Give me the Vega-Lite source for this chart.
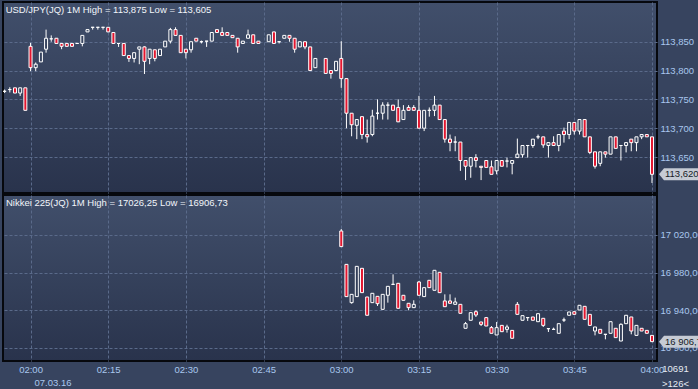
{
  "$schema": "https://vega.github.io/schema/vega-lite/v6.json",
  "background": "#37445f",
  "padding": {"left": 1, "top": 1, "right": 0, "bottom": 0},
  "spacing": 0,
  "config": {
    "font": "Liberation Sans",
    "axis": {"labelOverlap": false, "labelSeparation": -100},
    "view": {
      "stroke": "#06080d", "strokeWidth": 2,
      "fill": {"gradient": "linear", "x1": 0, "y1": 0, "x2": 0, "y2": 1, "stops": [{"offset": 0, "color": "#414f6b"}, {"offset": 1, "color": "#29334c"}]}
    }
  },
  "datasets": {
    "usd": [
      {"t":"2016-03-07T01:55","o":113.764,"h":113.767,"l":113.761,"c":113.764},
      {"t":"2016-03-07T01:56","o":113.767,"h":113.771,"l":113.762,"c":113.767},
      {"t":"2016-03-07T01:57","o":113.770,"h":113.770,"l":113.761,"c":113.761},
      {"t":"2016-03-07T01:58","o":113.761,"h":113.770,"l":113.756,"c":113.770},
      {"t":"2016-03-07T01:59","o":113.770,"h":113.770,"l":113.731,"c":113.731},
      {"t":"2016-03-07T02:00","o":113.842,"h":113.848,"l":113.799,"c":113.805},
      {"t":"2016-03-07T02:01","o":113.805,"h":113.814,"l":113.799,"c":113.811},
      {"t":"2016-03-07T02:02","o":113.815,"h":113.832,"l":113.815,"c":113.832},
      {"t":"2016-03-07T02:03","o":113.837,"h":113.871,"l":113.831,"c":113.856},
      {"t":"2016-03-07T02:04","o":113.855,"h":113.861,"l":113.850,"c":113.855},
      {"t":"2016-03-07T02:05","o":113.856,"h":113.856,"l":113.847,"c":113.847},
      {"t":"2016-03-07T02:06","o":113.847,"h":113.847,"l":113.837,"c":113.842},
      {"t":"2016-03-07T02:07","o":113.847,"h":113.847,"l":113.842,"c":113.842},
      {"t":"2016-03-07T02:08","o":113.847,"h":113.847,"l":113.842,"c":113.842},
      {"t":"2016-03-07T02:09","o":113.847,"h":113.847,"l":113.847,"c":113.847},
      {"t":"2016-03-07T02:10","o":113.847,"h":113.861,"l":113.842,"c":113.861},
      {"t":"2016-03-07T02:11","o":113.867,"h":113.871,"l":113.867,"c":113.871},
      {"t":"2016-03-07T02:12","o":113.875,"h":113.875,"l":113.871,"c":113.875},
      {"t":"2016-03-07T02:13","o":113.875,"h":113.875,"l":113.871,"c":113.875},
      {"t":"2016-03-07T02:14","o":113.875,"h":113.875,"l":113.871,"c":113.875},
      {"t":"2016-03-07T02:15","o":113.875,"h":113.875,"l":113.867,"c":113.867},
      {"t":"2016-03-07T02:16","o":113.866,"h":113.866,"l":113.847,"c":113.847},
      {"t":"2016-03-07T02:17","o":113.847,"h":113.847,"l":113.841,"c":113.847},
      {"t":"2016-03-07T02:18","o":113.847,"h":113.847,"l":113.826,"c":113.826},
      {"t":"2016-03-07T02:19","o":113.826,"h":113.826,"l":113.815,"c":113.821},
      {"t":"2016-03-07T02:20","o":113.821,"h":113.831,"l":113.814,"c":113.831},
      {"t":"2016-03-07T02:21","o":113.837,"h":113.841,"l":113.811,"c":113.841},
      {"t":"2016-03-07T02:22","o":113.841,"h":113.842,"l":113.794,"c":113.816},
      {"t":"2016-03-07T02:23","o":113.821,"h":113.837,"l":113.811,"c":113.837},
      {"t":"2016-03-07T02:24","o":113.836,"h":113.836,"l":113.816,"c":113.821},
      {"t":"2016-03-07T02:25","o":113.826,"h":113.837,"l":113.826,"c":113.837},
      {"t":"2016-03-07T02:26","o":113.841,"h":113.851,"l":113.841,"c":113.851},
      {"t":"2016-03-07T02:27","o":113.851,"h":113.874,"l":113.847,"c":113.871},
      {"t":"2016-03-07T02:28","o":113.871,"h":113.875,"l":113.861,"c":113.861},
      {"t":"2016-03-07T02:29","o":113.861,"h":113.861,"l":113.831,"c":113.831},
      {"t":"2016-03-07T02:30","o":113.837,"h":113.837,"l":113.821,"c":113.831},
      {"t":"2016-03-07T02:31","o":113.836,"h":113.850,"l":113.831,"c":113.850},
      {"t":"2016-03-07T02:32","o":113.856,"h":113.856,"l":113.851,"c":113.851},
      {"t":"2016-03-07T02:33","o":113.850,"h":113.852,"l":113.847,"c":113.850},
      {"t":"2016-03-07T02:34","o":113.851,"h":113.851,"l":113.841,"c":113.851},
      {"t":"2016-03-07T02:35","o":113.851,"h":113.866,"l":113.851,"c":113.866},
      {"t":"2016-03-07T02:36","o":113.871,"h":113.871,"l":113.866,"c":113.866},
      {"t":"2016-03-07T02:37","o":113.866,"h":113.875,"l":113.861,"c":113.861},
      {"t":"2016-03-07T02:38","o":113.866,"h":113.866,"l":113.861,"c":113.861},
      {"t":"2016-03-07T02:39","o":113.861,"h":113.861,"l":113.857,"c":113.857},
      {"t":"2016-03-07T02:40","o":113.856,"h":113.856,"l":113.831,"c":113.841},
      {"t":"2016-03-07T02:41","o":113.847,"h":113.851,"l":113.847,"c":113.851},
      {"t":"2016-03-07T02:42","o":113.856,"h":113.871,"l":113.856,"c":113.862},
      {"t":"2016-03-07T02:43","o":113.862,"h":113.862,"l":113.847,"c":113.847},
      {"t":"2016-03-07T02:44","o":113.851,"h":113.851,"l":113.847,"c":113.847},
      {"t":"2016-03-07T02:46","o":113.850,"h":113.862,"l":113.850,"c":113.862},
      {"t":"2016-03-07T02:47","o":113.867,"h":113.867,"l":113.847,"c":113.847},
      {"t":"2016-03-07T02:48","o":113.850,"h":113.850,"l":113.847,"c":113.850},
      {"t":"2016-03-07T02:49","o":113.856,"h":113.861,"l":113.856,"c":113.861},
      {"t":"2016-03-07T02:50","o":113.861,"h":113.861,"l":113.850,"c":113.856},
      {"t":"2016-03-07T02:51","o":113.856,"h":113.856,"l":113.831,"c":113.837},
      {"t":"2016-03-07T02:52","o":113.841,"h":113.850,"l":113.841,"c":113.850},
      {"t":"2016-03-07T02:53","o":113.850,"h":113.850,"l":113.837,"c":113.841},
      {"t":"2016-03-07T02:54","o":113.841,"h":113.841,"l":113.800,"c":113.800},
      {"t":"2016-03-07T02:55","o":113.805,"h":113.821,"l":113.805,"c":113.821},
      {"t":"2016-03-07T02:57","o":113.821,"h":113.821,"l":113.795,"c":113.795},
      {"t":"2016-03-07T02:58","o":113.800,"h":113.800,"l":113.786,"c":113.795},
      {"t":"2016-03-07T02:59","o":113.800,"h":113.816,"l":113.800,"c":113.816},
      {"t":"2016-03-07T03:00","o":113.821,"h":113.851,"l":113.770,"c":113.786},
      {"t":"2016-03-07T03:01","o":113.786,"h":113.786,"l":113.700,"c":113.726},
      {"t":"2016-03-07T03:02","o":113.726,"h":113.726,"l":113.686,"c":113.706},
      {"t":"2016-03-07T03:03","o":113.705,"h":113.715,"l":113.681,"c":113.715},
      {"t":"2016-03-07T03:04","o":113.720,"h":113.720,"l":113.681,"c":113.689},
      {"t":"2016-03-07T03:05","o":113.689,"h":113.715,"l":113.675,"c":113.685},
      {"t":"2016-03-07T03:06","o":113.689,"h":113.732,"l":113.686,"c":113.721},
      {"t":"2016-03-07T03:07","o":113.726,"h":113.750,"l":113.715,"c":113.726},
      {"t":"2016-03-07T03:08","o":113.726,"h":113.745,"l":113.715,"c":113.740},
      {"t":"2016-03-07T03:09","o":113.740,"h":113.745,"l":113.715,"c":113.740},
      {"t":"2016-03-07T03:10","o":113.740,"h":113.740,"l":113.731,"c":113.731},
      {"t":"2016-03-07T03:11","o":113.736,"h":113.750,"l":113.711,"c":113.711},
      {"t":"2016-03-07T03:12","o":113.715,"h":113.740,"l":113.715,"c":113.731},
      {"t":"2016-03-07T03:13","o":113.736,"h":113.740,"l":113.731,"c":113.731},
      {"t":"2016-03-07T03:14","o":113.736,"h":113.740,"l":113.731,"c":113.731},
      {"t":"2016-03-07T03:15","o":113.731,"h":113.756,"l":113.700,"c":113.700},
      {"t":"2016-03-07T03:16","o":113.700,"h":113.731,"l":113.695,"c":113.731},
      {"t":"2016-03-07T03:17","o":113.731,"h":113.736,"l":113.720,"c":113.731},
      {"t":"2016-03-07T03:18","o":113.731,"h":113.756,"l":113.721,"c":113.740},
      {"t":"2016-03-07T03:19","o":113.740,"h":113.740,"l":113.715,"c":113.715},
      {"t":"2016-03-07T03:20","o":113.715,"h":113.715,"l":113.675,"c":113.681},
      {"t":"2016-03-07T03:21","o":113.681,"h":113.689,"l":113.660,"c":113.675},
      {"t":"2016-03-07T03:22","o":113.676,"h":113.686,"l":113.660,"c":113.676},
      {"t":"2016-03-07T03:23","o":113.676,"h":113.676,"l":113.626,"c":113.644},
      {"t":"2016-03-07T03:24","o":113.644,"h":113.644,"l":113.610,"c":113.634},
      {"t":"2016-03-07T03:25","o":113.634,"h":113.649,"l":113.614,"c":113.649},
      {"t":"2016-03-07T03:26","o":113.649,"h":113.655,"l":113.632,"c":113.644},
      {"t":"2016-03-07T03:27","o":113.634,"h":113.634,"l":113.610,"c":113.632},
      {"t":"2016-03-07T03:28","o":113.644,"h":113.644,"l":113.632,"c":113.632},
      {"t":"2016-03-07T03:29","o":113.633,"h":113.644,"l":113.620,"c":113.620},
      {"t":"2016-03-07T03:30","o":113.626,"h":113.644,"l":113.620,"c":113.644},
      {"t":"2016-03-07T03:31","o":113.644,"h":113.644,"l":113.634,"c":113.634},
      {"t":"2016-03-07T03:32","o":113.643,"h":113.649,"l":113.632,"c":113.643},
      {"t":"2016-03-07T03:33","o":113.639,"h":113.644,"l":113.620,"c":113.644},
      {"t":"2016-03-07T03:34","o":113.649,"h":113.682,"l":113.649,"c":113.655},
      {"t":"2016-03-07T03:35","o":113.654,"h":113.670,"l":113.649,"c":113.670},
      {"t":"2016-03-07T03:36","o":113.670,"h":113.670,"l":113.649,"c":113.670},
      {"t":"2016-03-07T03:37","o":113.670,"h":113.681,"l":113.666,"c":113.681},
      {"t":"2016-03-07T03:38","o":113.685,"h":113.689,"l":113.681,"c":113.685},
      {"t":"2016-03-07T03:39","o":113.685,"h":113.685,"l":113.666,"c":113.671},
      {"t":"2016-03-07T03:40","o":113.670,"h":113.675,"l":113.649,"c":113.675},
      {"t":"2016-03-07T03:41","o":113.675,"h":113.686,"l":113.670,"c":113.670},
      {"t":"2016-03-07T03:42","o":113.670,"h":113.689,"l":113.660,"c":113.689},
      {"t":"2016-03-07T03:43","o":113.695,"h":113.701,"l":113.675,"c":113.689},
      {"t":"2016-03-07T03:44","o":113.689,"h":113.710,"l":113.681,"c":113.710},
      {"t":"2016-03-07T03:45","o":113.710,"h":113.710,"l":113.689,"c":113.695},
      {"t":"2016-03-07T03:46","o":113.695,"h":113.715,"l":113.689,"c":113.715},
      {"t":"2016-03-07T03:47","o":113.715,"h":113.715,"l":113.685,"c":113.685},
      {"t":"2016-03-07T03:48","o":113.685,"h":113.685,"l":113.655,"c":113.658},
      {"t":"2016-03-07T03:49","o":113.659,"h":113.659,"l":113.630,"c":113.634},
      {"t":"2016-03-07T03:50","o":113.639,"h":113.659,"l":113.634,"c":113.659},
      {"t":"2016-03-07T03:51","o":113.659,"h":113.659,"l":113.649,"c":113.655},
      {"t":"2016-03-07T03:52","o":113.655,"h":113.685,"l":113.655,"c":113.685},
      {"t":"2016-03-07T03:53","o":113.685,"h":113.685,"l":113.665,"c":113.665},
      {"t":"2016-03-07T03:54","o":113.670,"h":113.670,"l":113.644,"c":113.670},
      {"t":"2016-03-07T03:55","o":113.670,"h":113.675,"l":113.658,"c":113.675},
      {"t":"2016-03-07T03:56","o":113.681,"h":113.681,"l":113.660,"c":113.675},
      {"t":"2016-03-07T03:57","o":113.675,"h":113.685,"l":113.660,"c":113.685},
      {"t":"2016-03-07T03:58","o":113.685,"h":113.689,"l":113.681,"c":113.689},
      {"t":"2016-03-07T03:59","o":113.689,"h":113.689,"l":113.685,"c":113.685},
      {"t":"2016-03-07T04:00","o":113.685,"h":113.685,"l":113.605,"c":113.620}
    ],
    "nik": [
      {"t":"2016-03-07T03:00","o":17024.1,"h":17026.25,"l":17007.5,"c":17007.5},
      {"t":"2016-03-07T03:01","o":16988.7,"h":16988.7,"l":16954.5,"c":16954.5},
      {"t":"2016-03-07T03:02","o":16948.1,"h":16956.9,"l":16947.0,"c":16956.9},
      {"t":"2016-03-07T03:03","o":16954.5,"h":16986.6,"l":16954.5,"c":16986.6},
      {"t":"2016-03-07T03:04","o":16984.5,"h":16984.5,"l":16958.7,"c":16958.7},
      {"t":"2016-03-07T03:05","o":16954.1,"h":16954.1,"l":16934.7,"c":16934.7},
      {"t":"2016-03-07T03:06","o":16948.1,"h":16958.0,"l":16948.1,"c":16958.0},
      {"t":"2016-03-07T03:07","o":16954.8,"h":16954.8,"l":16944.6,"c":16947.0},
      {"t":"2016-03-07T03:08","o":16941.0,"h":16956.9,"l":16941.0,"c":16956.9},
      {"t":"2016-03-07T03:09","o":16955.9,"h":16965.4,"l":16948.1,"c":16965.4},
      {"t":"2016-03-07T03:10","o":16967.5,"h":16978.1,"l":16967.5,"c":16967.5},
      {"t":"2016-03-07T03:11","o":16968.6,"h":16968.6,"l":16942.1,"c":16942.1},
      {"t":"2016-03-07T03:12","o":16955.9,"h":16955.9,"l":16950.6,"c":16950.6},
      {"t":"2016-03-07T03:13","o":16947.4,"h":16947.4,"l":16940.0,"c":16942.8},
      {"t":"2016-03-07T03:14","o":16942.8,"h":16950.6,"l":16942.8,"c":16946.3},
      {"t":"2016-03-07T03:15","o":16970.0,"h":16971.1,"l":16955.9,"c":16955.9},
      {"t":"2016-03-07T03:16","o":16954.5,"h":16964.0,"l":16954.5,"c":16964.0},
      {"t":"2016-03-07T03:17","o":16971.8,"h":16971.8,"l":16964.0,"c":16964.0},
      {"t":"2016-03-07T03:18","o":16961.2,"h":16982.4,"l":16961.2,"c":16982.4},
      {"t":"2016-03-07T03:19","o":16980.3,"h":16980.3,"l":16958.7,"c":16958.7},
      {"t":"2016-03-07T03:20","o":16949.9,"h":16956.9,"l":16943.8,"c":16943.8},
      {"t":"2016-03-07T03:21","o":16949.9,"h":16956.9,"l":16947.4,"c":16947.4},
      {"t":"2016-03-07T03:22","o":16946.3,"h":16953.4,"l":16946.3,"c":16948.8},
      {"t":"2016-03-07T03:23","o":16946.3,"h":16946.3,"l":16936.8,"c":16936.8},
      {"t":"2016-03-07T03:24","o":16920.9,"h":16927.6,"l":16920.9,"c":16925.8},
      {"t":"2016-03-07T03:25","o":16929.4,"h":16937.5,"l":16929.4,"c":16937.5},
      {"t":"2016-03-07T03:26","o":16938.5,"h":16939.9,"l":16932.9,"c":16935.0},
      {"t":"2016-03-07T03:27","o":16927.6,"h":16927.6,"l":16923.3,"c":16925.1},
      {"t":"2016-03-07T03:28","o":16932.2,"h":16932.9,"l":16923.3,"c":16923.3},
      {"t":"2016-03-07T03:29","o":16921.6,"h":16923.3,"l":16915.6,"c":16915.6},
      {"t":"2016-03-07T03:30","o":16913.8,"h":16927.6,"l":16913.8,"c":16921.6},
      {"t":"2016-03-07T03:31","o":16924.0,"h":16924.0,"l":16917.3,"c":16917.3},
      {"t":"2016-03-07T03:32","o":16919.8,"h":16924.7,"l":16916.3,"c":16922.3},
      {"t":"2016-03-07T03:33","o":16918.7,"h":16918.7,"l":16910.3,"c":16910.3},
      {"t":"2016-03-07T03:34","o":16946.3,"h":16948.8,"l":16935.7,"c":16935.7},
      {"t":"2016-03-07T03:35","o":16929.4,"h":16934.3,"l":16929.4,"c":16934.3},
      {"t":"2016-03-07T03:36","o":16932.2,"h":16932.2,"l":16928.7,"c":16932.2},
      {"t":"2016-03-07T03:37","o":16932.9,"h":16932.9,"l":16929.4,"c":16929.4},
      {"t":"2016-03-07T03:38","o":16927.9,"h":16936.4,"l":16927.9,"c":16936.4},
      {"t":"2016-03-07T03:39","o":16931.5,"h":16931.5,"l":16922.3,"c":16924.0},
      {"t":"2016-03-07T03:40","o":16920.5,"h":16920.5,"l":16917.0,"c":16920.5},
      {"t":"2016-03-07T03:41","o":16919.8,"h":16921.6,"l":16919.8,"c":16919.8},
      {"t":"2016-03-07T03:42","o":16915.6,"h":16925.8,"l":16915.6,"c":16925.8},
      {"t":"2016-03-07T03:43","o":16929.7,"h":16932.2,"l":16927.6,"c":16929.7},
      {"t":"2016-03-07T03:44","o":16934.7,"h":16938.2,"l":16934.7,"c":16938.2},
      {"t":"2016-03-07T03:45","o":16938.5,"h":16938.5,"l":16935.7,"c":16935.7},
      {"t":"2016-03-07T03:46","o":16940.3,"h":16945.3,"l":16940.3,"c":16945.3},
      {"t":"2016-03-07T03:47","o":16944.2,"h":16944.2,"l":16930.4,"c":16930.4},
      {"t":"2016-03-07T03:48","o":16935.7,"h":16935.7,"l":16924.0,"c":16924.0},
      {"t":"2016-03-07T03:49","o":16918.0,"h":16922.3,"l":16913.4,"c":16922.3},
      {"t":"2016-03-07T03:50","o":16919.8,"h":16919.8,"l":16915.6,"c":16915.6},
      {"t":"2016-03-07T03:51","o":16914.5,"h":16914.5,"l":16909.2,"c":16914.5},
      {"t":"2016-03-07T03:52","o":16915.6,"h":16927.9,"l":16915.6,"c":16927.9},
      {"t":"2016-03-07T03:53","o":16920.9,"h":16920.9,"l":16911.0,"c":16911.0},
      {"t":"2016-03-07T03:54","o":16907.4,"h":16926.2,"l":16907.4,"c":16925.1},
      {"t":"2016-03-07T03:55","o":16925.8,"h":16934.7,"l":16925.8,"c":16934.7},
      {"t":"2016-03-07T03:56","o":16932.9,"h":16932.9,"l":16914.5,"c":16918.0},
      {"t":"2016-03-07T03:57","o":16913.4,"h":16924.0,"l":16913.4,"c":16924.0},
      {"t":"2016-03-07T03:58","o":16920.9,"h":16920.9,"l":16918.0,"c":16918.0},
      {"t":"2016-03-07T03:59","o":16918.7,"h":16918.7,"l":16915.6,"c":16915.6},
      {"t":"2016-03-07T04:00","o":16913.4,"h":16913.4,"l":16906.73,"c":16906.73}
    ]
  },
  "vconcat": [
    {
      "width": 654,
      "height": 191,
      "title": {"text": "USD/JPY(JQ) 1M High = 113,875 Low = 113,605", "anchor": "start", "offset": -12, "dx": 3, "color": "#f2f5fa", "fontSize": 9.5, "fontWeight": "normal"},
      "data": {"name": "usd"},
      "encoding": {
        "x": {
          "field": "t", "type": "temporal",
          "scale": {"domain": ["2016-03-07T01:54:41", "2016-03-07T04:00:58"], "padding": 0, "nice": false},
          "axis": {"title": null, "labels": false, "ticks": false, "domain": false, "grid": true, "gridColor": "#5a6a8a", "gridDash": [3, 2], "tickCount": 9, "minExtent": 0, "maxExtent": 0}
        }
      },
      "layer": [
        {
          "mark": {"type": "rule", "color": "#ffffff"},
          "encoding": {
            "y": {"field": "l", "type": "quantitative", "scale": {"domain": [113.5876, 113.9189], "nice": false, "zero": false},
              "axis": {"orient": "right", "title": null, "values": [113.65, 113.7, 113.75, 113.8, 113.85], "labelExpr": "replace(format(datum.value, '.3f'), '.', ',')", "labelOverlap": false, "labelSeparation": -100, "labelColor": "#a9c7ee", "labelFontSize": 9.5, "labelPadding": 3, "domain": false, "ticks": false, "grid": true, "gridColor": "#5a6a8a", "gridDash": [3, 2]}},
            "y2": {"field": "h"}
          }
        },
        {
          "mark": {"type": "bar", "size": 3, "stroke": "#ffffff", "strokeWidth": 1},
          "encoding": {
            "y": {"field": "o", "type": "quantitative"},
            "y2": {"field": "c"},
            "fill": {"condition": {"test": "datum.o > datum.c", "value": "#e3162f"}, "value": "#37445f"}
          }
        },
        {
          "transform": [{"filter": "hours(datum.t) == 4"}],
          "mark": {"type": "point", "shape": "M1.17,0L2,-1L8.4,-1L8.4,1L2,1Z", "filled": true, "color": "#c6cbd4", "opacity": 1, "size": 144},
          "encoding": {"y": {"field": "c", "type": "quantitative"}}
        },
        {
          "transform": [{"filter": "hours(datum.t) == 4"}],
          "mark": {"type": "text", "align": "left", "baseline": "middle", "dx": 13, "fontSize": 9.5, "color": "#161b26"},
          "encoding": {"y": {"field": "c", "type": "quantitative"}, "text": {"value": "113,620"}}
        }
      ]
    },
    {
      "width": 654,
      "height": 166,
      "title": {"text": "Nikkei 225(JQ) 1M High = 17026,25 Low = 16906,73", "anchor": "start", "offset": -12, "dx": 3, "color": "#f2f5fa", "fontSize": 9.5, "fontWeight": "normal"},
      "data": {"name": "nik"},
      "encoding": {
        "x": {
          "field": "t", "type": "temporal",
          "scale": {"domain": ["2016-03-07T01:54:41", "2016-03-07T04:00:58"], "padding": 0, "nice": false},
          "axis": {"domain": false, "ticks": false, "grid": true, "gridColor": "#5a6a8a", "gridDash": [3, 2], "tickCount": 9, "format": "%H:%M", "labelColor": "#a9c7ee", "labelFontSize": 9.5, "labelPadding": 3, "labelBaseline": "top", "labelFlush": false, "labelOverlap": false,
            "title": "07.03.16", "titleX": 31, "titleY": 24, "titleAlign": "left", "titleAnchor": "start", "titleBaseline": "alphabetic", "titleColor": "#a9c7ee", "titleFontSize": 9.5, "titleFontWeight": "normal"}
        }
      },
      "layer": [
        {
          "mark": {"type": "rule", "color": "#ffffff"},
          "encoding": {
            "y": {"field": "l", "type": "quantitative", "scale": {"domain": [16886.21, 17062.27], "nice": false, "zero": false},
              "axis": {"orient": "right", "values": [16900, 16920, 16940, 16960, 16980, 17000, 17020, 17040], "labelExpr": "replace(replace(format(datum.value, ',.2f'), ',', ' '), '.', ',')", "labelOverlap": false, "labelSeparation": -100, "labelColor": "#a9c7ee", "labelFontSize": 9.5, "labelPadding": 3, "domain": false, "ticks": false, "grid": true, "gridColor": "#5a6a8a", "gridDash": [3, 2],
                "title": ["10691", ">126<"], "titleAngle": 0, "titleX": 18, "titleY": 168, "titleAlign": "center", "titleBaseline": "top", "titleColor": "#e6ebf4", "titleFontSize": 9.5, "titleFontWeight": "normal", "titleLineHeight": 15}},
            "y2": {"field": "h"}
          }
        },
        {
          "mark": {"type": "bar", "size": 3, "stroke": "#ffffff", "strokeWidth": 1},
          "encoding": {
            "y": {"field": "o", "type": "quantitative"},
            "y2": {"field": "c"},
            "fill": {"condition": {"test": "datum.o > datum.c", "value": "#e3162f"}, "value": "#313d58"}
          }
        },
        {
          "transform": [{"filter": "hours(datum.t) == 4"}],
          "mark": {"type": "point", "shape": "M1.17,0L2,-1L8.4,-1L8.4,1L2,1Z", "filled": true, "color": "#c6cbd4", "opacity": 1, "size": 144},
          "encoding": {"y": {"field": "c", "type": "quantitative"}}
        },
        {
          "transform": [{"filter": "hours(datum.t) == 4"}],
          "mark": {"type": "text", "align": "left", "baseline": "middle", "dx": 13, "fontSize": 9.5, "color": "#161b26"},
          "encoding": {"y": {"field": "c", "type": "quantitative"}, "text": {"value": "16 906,73"}}
        }
      ]
    }
  ]
}
